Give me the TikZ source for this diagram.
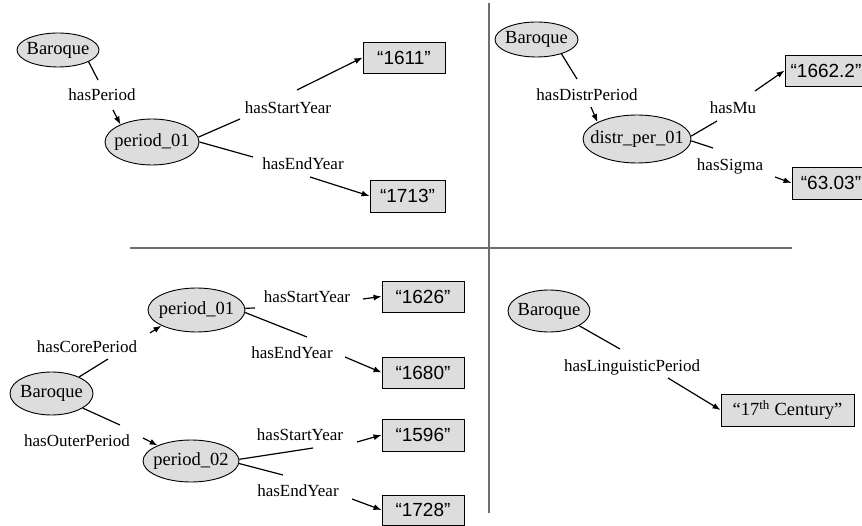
\documentclass[tikz,border=0pt]{standalone}
\usepackage{fontspec}
\setmainfont{Liberation Serif}
\newfontfamily\arialfont{Liberation Sans}
\usetikzlibrary{shapes.geometric,arrows.meta}
\definecolor{nodefill}{RGB}{221,221,221}
\definecolor{divcol}{RGB}{110,110,110}
\begin{document}
\begin{tikzpicture}[x=1pt,y=-1pt,
  ent/.style={ellipse,draw,line width=0.9pt,fill=nodefill,inner sep=0pt,font=\fontsize{18.5}{20}\selectfont},
  lit/.style={rectangle,draw,line width=0.9pt,fill=nodefill,inner sep=0pt,font=\arialfont\fontsize{19}{21}\selectfont},
  lbl/.style={inner sep=0pt,font=\fontsize{17}{19}\selectfont},
  conn/.style={line width=1.2pt},
  arr/.style={conn,-{Latex[length=8pt,width=6pt]}},
  divider/.style={line width=1.2pt,draw=divcol}]
\clip (0,0) rectangle (862,526);
\fill[white] (0,0) rectangle (862,526);

% dividers
\draw[divider] (130,248) -- (792,248);
\draw[divider] (489,3) -- (489,513);

% ---------- Quadrant 1 ----------
\node[ent,minimum width=82pt,minimum height=34pt] (b1) at (58,50) {\makebox[0pt]{Baroque}};
\node[ent,minimum width=94pt,minimum height=46pt] (p1) at (152,142) {\makebox[0pt]{period\_01}};
\node[lit,minimum width=82pt,minimum height=31pt] (n1611) at (404,57.5) {“1611”};
\node[lit,minimum width=75pt,minimum height=32pt] (n1713) at (407.5,196) {“1713”};
\node[lbl] (l1) at (102,95) {hasPeriod};
\node[lbl] (l2) at (288,108) {hasStartYear};
\node[lbl] (l3) at (303,164) {hasEndYear};

\coordinate (g1a) at (98,80);  \coordinate (g1b) at (113,110);
\coordinate (g2a) at (240,119); \coordinate (g2b) at (297,90);
\coordinate (g3a) at (253,157); \coordinate (g3b) at (310,177);
\draw[conn] (b1.-21) -- (g1a);  \draw[arr] (g1b) -- (p1.151);
\draw[conn] (p1.6) -- (g2a);    \draw[arr] (g2b) -- (n1611.west);
\draw[conn] (p1.0) -- (g3a);    \draw[arr] (g3b) -- (n1713.west);

% ---------- Quadrant 2 ----------
\node[ent,minimum width=83pt,minimum height=35pt] (b2) at (536.5,39.5) {\makebox[0pt]{Baroque}};
\node[ent,minimum width=108pt,minimum height=48pt] (d1) at (637,139) {\makebox[0pt]{distr\_per\_01}};
\node[lit,minimum width=82pt,minimum height=31pt] (n1662) at (826,70.5) {“1662.2”};
\node[lit,minimum width=78pt,minimum height=32pt] (n6303) at (831,183) {“63.03”};
\node[lbl] (l4) at (587,95) {hasDistrPeriod};
\node[lbl] (l5) at (733,108) {hasMu};
\node[lbl] (l6) at (730,166) {hasSigma};

\coordinate (g4a) at (577,79);  \coordinate (g4b) at (591,107);
\coordinate (g5a) at (717,121); \coordinate (g5b) at (755,91);
\coordinate (g6a) at (713,148); \coordinate (g6b) at (775,177);
\draw[conn] (b2.-30) -- (g4a);  \draw[arr] (g4b) -- (d1.157);
\draw[conn] (d1.3) -- (g5a);    \draw[arr] (g5b) -- (n1662.west);
\draw[conn] (d1.-2) -- (g6a);   \draw[arr] (g6b) -- (n6303.west);

% ---------- Quadrant 3 ----------
\node[ent,minimum width=83pt,minimum height=43pt] (b3) at (51.5,393.5) {\makebox[0pt]{Baroque}};
\node[ent,minimum width=97pt,minimum height=44pt] (p2) at (196.5,310) {\makebox[0pt]{period\_01}};
\node[ent,minimum width=96pt,minimum height=42pt] (p3) at (191,461) {\makebox[0pt]{period\_02}};
\node[lit,minimum width=82pt,minimum height=31pt] (n1626) at (423,296.5) {“1626”};
\node[lit,minimum width=82pt,minimum height=31pt] (n1680) at (423,372.5) {“1680”};
\node[lit,minimum width=82pt,minimum height=32pt] (n1596) at (423,435) {“1596”};
\node[lit,minimum width=82pt,minimum height=30pt] (n1728) at (423,510) {“1728”};
\node[lbl] (l7) at (87,347) {hasCorePeriod};
\node[lbl] (l8) at (77,441) {hasOuterPeriod};
\node[lbl] (l9) at (307,297) {hasStartYear};
\node[lbl] (l10) at (292,353) {hasEndYear};
\node[lbl] (l11) at (300,435) {hasStartYear};
\node[lbl] (l12) at (298,491) {hasEndYear};

\coordinate (g7a) at (108,359);  \coordinate (g7b) at (150,333);
\coordinate (g8a) at (120,425);  \coordinate (g8b) at (143,438);
\coordinate (g9a) at (255,308);  \coordinate (g9b) at (363,299);
\coordinate (g10a) at (307,337); \coordinate (g10b) at (345,357);
\coordinate (g11a) at (313,448); \coordinate (g11b) at (357,442);
\coordinate (g12a) at (283,475); \coordinate (g12b) at (352,499);
\draw[conn] (b3.31) -- (g7a);   \draw[arr] (g7b) -- (p2.204);
\draw[conn] (b3.-25) -- (g8a);  \draw[arr] (g8b) -- (p3.155);
\draw[conn] (p2.2) -- (g9a);    \draw[arr] (g9b) -- (n1626.west);
\draw[conn] (p2.-3) -- (g10a);  \draw[arr] (g10b) -- (n1680.west);
\draw[conn] (p3.2) -- (g11a);   \draw[arr] (g11b) -- (n1596.west);
\draw[conn] (p3.-3) -- (g12a);  \draw[arr] (g12b) -- (n1728.west);

% ---------- Quadrant 4 ----------
\node[ent,minimum width=82pt,minimum height=42pt] (b4) at (549,311) {\makebox[0pt]{Baroque}};
\node[lit,minimum width=133pt,minimum height=32pt,font=\fontsize{18.5}{20}\selectfont] (n17) at (787.5,410) {“17\textsuperscript{th} Century”};
\node[lbl] (l13) at (632,367) {hasLinguisticPeriod};

\coordinate (g13a) at (620,349); \coordinate (g13b) at (668,378);
\draw[conn] (b4.-26) -- (g13a); \draw[arr] (g13b) -- (n17.west);
\end{tikzpicture}
\end{document}
